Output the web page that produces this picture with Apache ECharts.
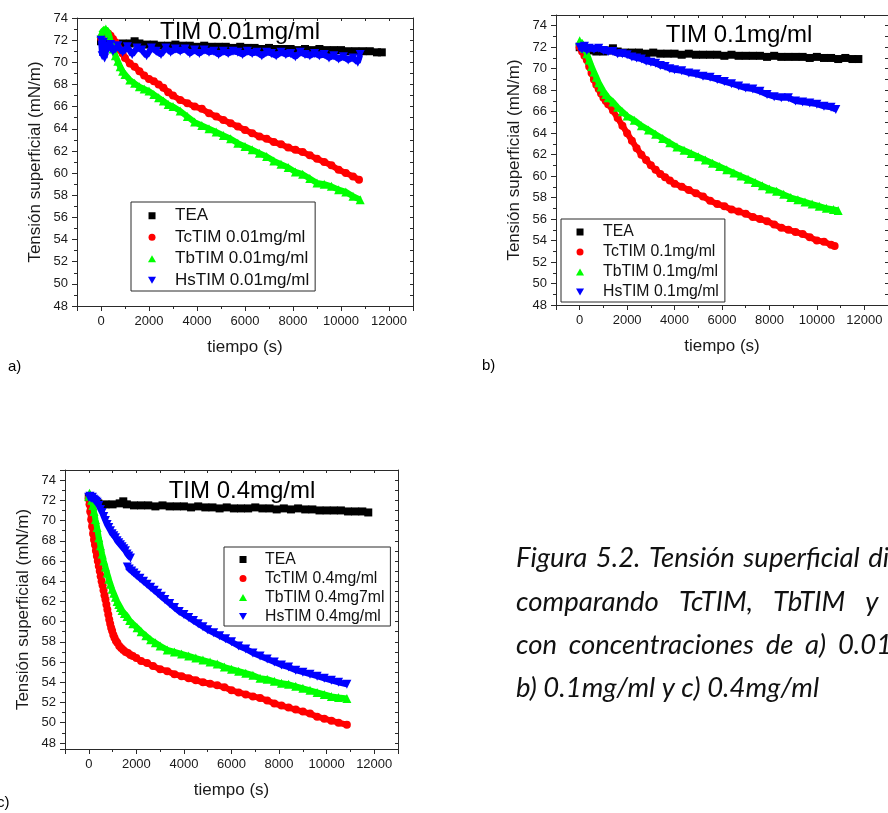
<!DOCTYPE html>
<html><head><meta charset="utf-8">
<script src="https://cdn.jsdelivr.net/npm/echarts@6/dist/echarts.min.js"></script>
<style>html,body{margin:0;padding:0;background:#fff}#c{width:888px;height:813px}</style>
</head><body><div id="c"></div>
<script>
// ---------- DATA ----------
const panelTitles = ['TIM 0.01mg/ml', 'TIM 0.1mg/ml', 'TIM 0.4mg/ml'];
const panelLabels = ['a)', 'b)', 'c)'];
const xTitle = 'tiempo (s)';
const yTitle = 'Tensión superficial (mN/m)';
const namesA = ['TEA', 'TcTIM 0.01mg/ml', 'TbTIM 0.01mg/ml', 'HsTIM 0.01mg/ml'];
const namesB = ['TEA', 'TcTIM 0.1mg/ml', 'TbTIM 0.1mg/ml', 'HsTIM 0.1mg/ml'];
const namesC = ['TEA', 'TcTIM 0.4mg/ml', 'TbTIM 0.4mg7ml', 'HsTIM 0.4mg/ml'];
const captionLines = [
  'Figura 5.2. Tensión superficial dinámica',
  'comparando TcTIM, TbTIM y HsTIM',
  'con concentraciones de a) 0.01mg/ml,',
  'b) 0.1mg/ml y c) 0.4mg/ml'
];

// panel a (0.01 mg/ml)
const teaA = [[0,71.9],[150,71.6],[300,71.7],[600,71.6],[900,71.7],[1200,71.7],[1400,71.9],[1600,71.7],[1900,71.6],[2200,71.6],[2500,71.5],[2800,71.5],[3100,71.6],[3400,71.5],[3700,71.5],[4000,71.4],[4300,71.5],[4600,71.4],[4900,71.4],[5200,71.4],[5500,71.3],[5800,71.4],[6100,71.3],[6400,71.3],[6700,71.2],[7000,71.3],[7300,71.2],[7600,71.2],[7900,71.2],[8200,71.1],[8500,71.2],[8800,71.1],[9100,71.2],[9400,71.1],[9700,71.1],[10000,71.1],[10300,71.0],[10600,71.0],[10900,71.0],[11200,71.0],[11500,70.9],[11700,70.9]];
const tcTimA = [[0,72.2],[100,72.5],[200,72.7],[300,72.6],[400,72.4],[500,72.1],[600,71.8],[700,71.4],[800,71.1],[900,70.8],[1000,70.4],[1200,69.9],[1400,69.6],[1600,69.2],[1800,68.8],[2000,68.5],[2200,68.3],[2400,68.0],[2600,67.7],[2800,67.3],[3000,67.0],[3300,66.6],[3600,66.3],[3900,66.0],[4200,65.8],[4500,65.4],[4800,65.1],[5100,64.8],[5400,64.5],[5700,64.2],[6000,63.9],[6300,63.6],[6600,63.3],[6900,63.1],[7200,62.8],[7500,62.6],[7800,62.3],[8100,62.1],[8400,61.9],[8700,61.6],[9000,61.3],[9300,61.0],[9600,60.7],[9900,60.3],[10200,60.0],[10500,59.7],[10750,59.4]];
const tbTimA = [[0,72.6],[100,72.9],[200,73.0],[300,72.7],[400,71.9],[500,71.2],[600,70.6],[700,70.1],[800,69.6],[900,69.2],[1000,68.9],[1200,68.4],[1400,68.1],[1600,67.8],[1800,67.6],[2000,67.4],[2200,67.1],[2400,66.8],[2600,66.5],[2800,66.2],[3000,66.0],[3300,65.6],[3600,65.1],[3900,64.6],[4200,64.3],[4500,64.0],[4800,63.7],[5100,63.4],[5400,63.1],[5700,62.7],[6000,62.4],[6300,62.1],[6600,61.8],[6900,61.5],[7200,61.1],[7500,60.8],[7800,60.5],[8100,60.1],[8400,59.9],[8700,59.5],[9000,59.1],[9300,59.0],[9600,58.8],[9900,58.5],[10200,58.3],[10500,57.9],[10800,57.6]];
const hsTimA = [[0,72.0],[50,70.6],[100,71.8],[150,70.4],[200,71.5],[300,71.2],[400,71.6],[500,71.0],[700,71.5],[900,70.9],[1100,71.4],[1300,70.7],[1500,71.3],[1700,71.1],[1900,70.6],[2100,71.3],[2300,71.0],[2500,70.7],[2700,71.3],[2900,70.9],[3100,71.2],[3300,71.0],[3500,71.2],[3700,70.8],[3900,71.1],[4100,70.8],[4300,71.1],[4500,70.9],[4700,71.0],[4900,70.7],[5100,71.0],[5300,70.8],[5500,71.0],[5700,70.9],[5900,70.7],[6100,71.0],[6300,70.8],[6500,70.9],[6700,70.6],[6900,70.9],[7100,70.8],[7300,70.6],[7500,70.9],[7700,70.7],[7900,70.8],[8100,70.5],[8300,70.9],[8500,70.7],[8700,70.6],[8900,70.8],[9100,70.6],[9300,70.7],[9500,70.4],[9700,70.6],[9900,70.3],[10100,70.5],[10300,70.2],[10500,70.4],[10700,70.0],[10800,70.7]];

// panel b (0.1 mg/ml)
const teaB = [[0,72.0],[200,71.8],[400,71.7],[700,71.6],[1000,71.6],[1300,71.7],[1400,71.9],[1600,71.6],[1900,71.5],[2200,71.5],[2500,71.5],[2800,71.4],[3100,71.5],[3400,71.4],[3700,71.4],[4000,71.4],[4300,71.3],[4600,71.4],[4900,71.3],[5200,71.3],[5500,71.3],[5800,71.3],[6100,71.2],[6400,71.3],[6700,71.2],[7000,71.2],[7300,71.2],[7600,71.2],[7900,71.1],[8200,71.2],[8500,71.1],[8800,71.1],[9100,71.1],[9400,71.1],[9700,71.0],[10000,71.1],[10300,71.0],[10600,71.0],[10900,70.9],[11200,71.0],[11500,70.9],[11750,70.9]];
const tcTimB = [[0,72.0],[100,71.6],[200,71.2],[300,70.8],[400,70.2],[500,69.6],[600,69.0],[700,68.5],[800,68.1],[900,67.7],[1000,67.3],[1100,67.0],[1200,66.7],[1400,66.1],[1600,65.4],[1800,64.7],[2000,64.0],[2200,63.3],[2400,62.6],[2600,62.0],[2800,61.5],[3000,61.0],[3200,60.6],[3400,60.2],[3600,59.9],[3800,59.6],[4000,59.3],[4300,59.0],[4600,58.7],[4900,58.4],[5200,58.1],[5500,57.7],[5800,57.4],[6100,57.2],[6400,56.9],[6700,56.7],[7000,56.5],[7300,56.2],[7600,56.0],[7900,55.8],[8200,55.5],[8500,55.2],[8800,55.0],[9100,54.8],[9400,54.6],[9700,54.3],[10000,54.0],[10300,53.9],[10600,53.6],[10750,53.5]];
const tbTimB = [[0,72.6],[100,72.3],[200,71.9],[300,71.4],[400,70.8],[500,70.2],[600,69.7],[700,69.2],[800,68.7],[900,68.3],[1000,67.9],[1100,67.6],[1200,67.3],[1400,66.9],[1600,66.4],[1800,66.0],[2000,65.6],[2300,65.2],[2600,64.7],[2900,64.3],[3200,63.9],[3500,63.5],[3800,63.1],[4100,62.7],[4400,62.4],[4700,62.1],[5000,61.8],[5300,61.5],[5600,61.2],[5900,60.9],[6200,60.6],[6500,60.3],[6800,60.0],[7100,59.7],[7400,59.4],[7700,59.1],[8000,58.8],[8300,58.6],[8600,58.3],[8900,58.0],[9200,57.8],[9500,57.6],[9800,57.4],[10100,57.2],[10400,57.0],[10700,56.9],[10900,56.8]];
const hsTimB = [[0,72.0],[100,71.8],[200,72.1],[300,71.7],[400,71.9],[600,71.8],[800,71.9],[1000,71.7],[1200,71.6],[1400,71.6],[1600,71.4],[1800,71.4],[2000,71.3],[2200,71.1],[2400,71.0],[2600,70.9],[2800,70.7],[3000,70.6],[3200,70.5],[3400,70.3],[3600,70.2],[3800,70.0],[4000,69.9],[4300,69.8],[4600,69.6],[4900,69.5],[5200,69.3],[5500,69.2],[5800,69.0],[6100,68.8],[6400,68.6],[6700,68.4],[7000,68.2],[7300,68.1],[7600,67.9],[7900,67.6],[8200,67.4],[8500,67.3],[8800,67.3],[9100,67.0],[9400,66.9],[9700,66.8],[10000,66.7],[10300,66.5],[10600,66.4],[10800,66.2]];

// panel c (0.4 mg/ml)
const teaC = [[0,72.3],[100,72.0],[200,71.8],[400,71.7],[700,71.6],[1000,71.6],[1300,71.7],[1450,71.9],[1600,71.6],[1900,71.5],[2200,71.5],[2500,71.5],[2800,71.4],[3100,71.5],[3400,71.4],[3700,71.4],[4000,71.4],[4300,71.3],[4600,71.4],[4900,71.3],[5200,71.3],[5500,71.2],[5800,71.3],[6100,71.2],[6400,71.2],[6700,71.2],[7000,71.3],[7300,71.2],[7600,71.2],[7900,71.1],[8200,71.2],[8500,71.1],[8800,71.2],[9100,71.1],[9400,71.1],[9700,71.0],[10000,71.0],[10300,71.0],[10600,71.0],[10900,70.9],[11200,70.9],[11500,70.9],[11750,70.8]];
const tcTimC = [[0,72.2],[30,71.6],[60,70.9],[100,70.1],[140,69.4],[180,68.7],[220,68.1],[260,67.6],[300,67.0],[340,66.5],[380,66.0],[420,65.5],[460,65.0],[500,64.5],[540,64.0],[580,63.6],[620,63.1],[660,62.6],[700,62.2],[740,61.7],[780,61.2],[820,60.7],[860,60.2],[900,59.8],[940,59.4],[980,59.1],[1030,58.7],[1080,58.4],[1140,58.1],[1200,57.9],[1280,57.6],[1360,57.4],[1450,57.2],[1550,57.0],[1650,56.9],[1750,56.7],[1850,56.6],[2000,56.4],[2200,56.1],[2450,55.9],[2700,55.6],[3000,55.3],[3300,55.1],[3600,54.8],[3900,54.6],[4200,54.4],[4500,54.2],[4800,54.0],[5100,53.85],[5400,53.7],[5700,53.5],[6000,53.2],[6300,53.0],[6600,52.8],[6900,52.6],[7200,52.45],[7500,52.2],[7800,51.9],[8100,51.7],[8400,51.5],[8700,51.3],[9000,51.1],[9300,50.9],[9600,50.6],[9900,50.4],[10200,50.2],[10500,50.0],[10850,49.8]];
const tbTimC = [[0,72.4],[30,72.7],[70,72.5],[120,72.0],[170,71.5],[220,70.9],[280,70.1],[350,69.3],[420,68.3],[490,67.5],[560,66.7],[630,66.0],[700,65.4],[770,64.8],[840,64.2],[910,63.7],[980,63.2],[1050,62.8],[1120,62.4],[1190,62.0],[1260,61.7],[1330,61.4],[1400,61.1],[1500,60.8],[1610,60.5],[1720,60.1],[1850,59.8],[2030,59.4],[2200,59.0],[2400,58.6],[2600,58.2],[2800,57.9],[3000,57.6],[3300,57.2],[3600,57.0],[3900,56.8],[4200,56.6],[4500,56.4],[4800,56.2],[5100,56.0],[5400,55.8],[5700,55.5],[6000,55.3],[6300,55.1],[6600,54.9],[6900,54.7],[7200,54.4],[7500,54.3],[7800,54.1],[8100,53.9],[8400,53.8],[8700,53.6],[9000,53.4],[9300,53.2],[9600,53.0],[9900,52.8],[10200,52.6],[10500,52.5],[10850,52.4]];
const hsTimC1 = [[0,72.3],[50,72.4],[100,72.2],[150,72.3],[200,72.1],[250,72.0],[300,71.9],[350,71.8],[420,71.5],[490,71.1],[560,70.8],[630,70.4],[700,70.0],[770,69.6],[840,69.3],[910,69.0],[980,68.7],[1050,68.5],[1120,68.3],[1190,68.0],[1260,67.8],[1330,67.6],[1400,67.4],[1470,67.2],[1540,67.0],[1610,66.7],[1680,66.5],[1750,66.3]];
const hsTimC2 = [[1620,65.4],[1700,65.2],[1800,65.0],[1900,64.8],[2000,64.6],[2150,64.3],[2300,64.0],[2450,63.7],[2600,63.4],[2750,63.1],[2900,62.8],[3050,62.5],[3200,62.2],[3400,61.8],[3600,61.4],[3800,61.0],[4000,60.7],[4200,60.4],[4400,60.1],[4600,59.8],[4800,59.5],[5000,59.2],[5250,58.9],[5500,58.6],[5750,58.3],[6000,58.0],[6300,57.6],[6600,57.3],[6900,56.9],[7200,56.6],[7500,56.3],[7800,56.0],[8100,55.7],[8400,55.5],[8700,55.2],[9000,55.0],[9300,54.8],[9600,54.6],[9900,54.4],[10200,54.2],[10500,54.0],[10850,53.8]];

// ---------- STYLE / LAYOUT ----------
const FONT = '"Liberation Sans", Arial, sans-serif';
const COLORS = ['#000000', '#ff0000', '#00ff00', '#0000ff'];
const P_RECT = 'path://M0,0L10,0L10,10L0,10Z';
const P_UP = 'path://M5,0L10,8.7L0,8.7Z';
const P_DOWN = 'path://M0,0L10,0L5,8.7Z';
const SYMBOLS = ['rect', 'circle', 'triangle', P_DOWN];
const LEG_ICONS = [P_RECT, 'circle', P_UP, P_DOWN];
const SYM_SIZE = [8, 8, 9, 9];

const grids = [
  {left: 77, top: 18, width: 336, height: 288},
  {left: 556, top: 15, width: 334, height: 290},
  {left: 65, top: 470, width: 333, height: 279}
];
const yRanges = [[48, 74], [48, 75], [47.4, 75]];

const AX = '#2a2a2a';
const xAxes = [], yAxes = [];
grids.forEach((g, i) => {
  const base = {
    gridIndex: i, type: 'value', min: -1000, max: 13000, splitNumber: 7,
    splitLine: {show: false},
    axisLine: {onZero: false, lineStyle: {color: AX, width: 1}}
  };
  xAxes.push(Object.assign({}, base, {
    position: 'bottom',
    axisTick: {show: true, inside: false, length: 5, lineStyle: {color: AX}},
    minorTick: {show: true, splitNumber: 2, length: 3, lineStyle: {color: AX}},
    axisLabel: {fontSize: 13, color: '#1a1a1a', fontFamily: FONT, margin: 9,
      showMinLabel: false, showMaxLabel: false, formatter: v => String(v)},
    name: xTitle, nameLocation: 'middle', nameGap: 33,
    nameTextStyle: {fontSize: 17, color: '#1a1a1a', fontFamily: FONT}
  }));
  xAxes.push(Object.assign({}, base, {
    position: 'top',
    axisTick: {show: true, inside: true, length: 3, lineStyle: {color: AX}},
    minorTick: {show: true, splitNumber: 2, length: 3, lineStyle: {color: AX}},
    axisLabel: {show: false}
  }));
  const yb = {
    gridIndex: i, type: 'value', min: yRanges[i][0], max: yRanges[i][1],
    splitLine: {show: false},
    axisLine: {show: true, onZero: false, lineStyle: {color: AX, width: 1}}
  };
  if (i < 2) { yb.interval = 2; } else { yb.splitNumber = 14; }
  yAxes.push(Object.assign({}, yb, {
    position: 'left',
    axisTick: {show: true, inside: false, length: 5, lineStyle: {color: AX}},
    minorTick: {show: true, splitNumber: 2, length: 3, lineStyle: {color: AX}},
    axisLabel: {fontSize: 13, color: '#1a1a1a', fontFamily: FONT, margin: 9,
      showMinLabel: i !== 2, showMaxLabel: i === 0},
    name: yTitle, nameLocation: 'middle', nameGap: 33,
    nameTextStyle: {fontSize: 17, color: '#1a1a1a', fontFamily: FONT}
  }));
  yAxes.push(Object.assign({}, yb, {
    position: 'right',
    axisTick: {show: true, inside: true, length: 3, lineStyle: {color: AX}},
    minorTick: {show: true, splitNumber: 2, length: 3, lineStyle: {color: AX}},
    axisLabel: {show: false}
  }));
});

const panelData = [
  [teaA, tcTimA, tbTimA, [hsTimA]],
  [teaB, tcTimB, tbTimB, [hsTimB]],
  [teaC, tcTimC, tbTimC, [hsTimC1, hsTimC2]]
];
const panelNames = [namesA, namesB, namesC];
const series = [];
panelData.forEach((sets, p) => {
  sets.forEach((d, k) => {
    const parts = (k === 3) ? d : [d];
    parts.forEach(part => {
      series.push({
        type: 'line', name: panelNames[p][k], data: part,
        xAxisIndex: p * 2, yAxisIndex: p * 2,
        symbol: SYMBOLS[k], symbolSize: SYM_SIZE[k], showSymbol: true,
        itemStyle: {color: COLORS[k]},
        lineStyle: {color: COLORS[k], width: 6},
        emphasis: {disabled: true}, silent: true, z: 2 + k
      });
    });
  });
});

const legendCfg = [
  {left: 131, top: 202, fs: 17, lh: 21.5, pad: [3, 6, 0, 17], w: 36},
  {left: 561, top: 219, fs: 15.8, lh: 20, pad: [3, 6, 0, 15], w: 36},
  {left: 224, top: 547, fs: 15.8, lh: 19, pad: [3, 6, 0, 15], w: 34}
];
const legends = legendCfg.map((c, p) => ({
  orient: 'vertical', left: c.left, top: c.top, padding: c.pad,
  itemWidth: c.w, itemHeight: 7, itemGap: 0, selectedMode: false,
  symbolKeepAspect: true,
  borderColor: AX, borderWidth: 1, backgroundColor: '#fff',
  textStyle: {fontSize: c.fs, lineHeight: c.lh, color: '#111', fontFamily: FONT},
  data: panelNames[p].map((n, k) => ({name: n, icon: LEG_ICONS[k]}))
}));

const graphics = [];
const titlePos = [[240, 32], [739, 35], [242, 491]];
panelTitles.forEach((t, i) => graphics.push({
  type: 'text', x: titlePos[i][0], y: titlePos[i][1], z: 100,
  style: {text: t, fontSize: 24, fontFamily: FONT, fill: '#000', align: 'center', verticalAlign: 'middle'}
}));
const labelPos = [[8, 367], [482, 366], [-3, 803]];
panelLabels.forEach((t, i) => graphics.push({
  type: 'text', x: labelPos[i][0], y: labelPos[i][1], z: 100,
  style: {text: t, fontSize: 15, fontFamily: FONT, fill: '#000', align: 'left', verticalAlign: 'middle'}
}));

// caption: justified paragraph (words spread across a fixed line width)
const CAP_FONT_FAMILY = 'Lato, "Open Sans", sans-serif';
const CAP_SIZE = 27.5;
const CAP_LEFT = 516, CAP_WIDTH = 456;
const capY = [558, 602, 645, 688];
const mctx = document.createElement('canvas').getContext('2d');
mctx.font = 'italic ' + CAP_SIZE + 'px ' + CAP_FONT_FAMILY;
captionLines.forEach((line, li) => {
  const words = line.split(' ');
  const widths = words.map(w => mctx.measureText(w).width);
  const total = widths.reduce((a, b) => a + b, 0);
  const last = li === captionLines.length - 1;
  const gap = last ? mctx.measureText(' ').width : (CAP_WIDTH - total) / (words.length - 1);
  let x = CAP_LEFT;
  words.forEach((w, wi) => {
    graphics.push({
      type: 'text', x: x, y: capY[li], z: 100,
      style: {text: w, fontSize: CAP_SIZE, fontStyle: 'italic', fontFamily: CAP_FONT_FAMILY,
        fill: '#111', align: 'left', verticalAlign: 'middle'}
    });
    x += widths[wi] + gap;
  });
});

const chart = echarts.init(document.getElementById('c'), null, {renderer: 'canvas'});
chart.setOption({
  animation: false,
  backgroundColor: '#fff',
  grid: grids.map(g => Object.assign({containLabel: false}, g)),
  xAxis: xAxes, yAxis: yAxes,
  legend: legends,
  series: series,
  graphic: graphics
});
</script></body></html>
